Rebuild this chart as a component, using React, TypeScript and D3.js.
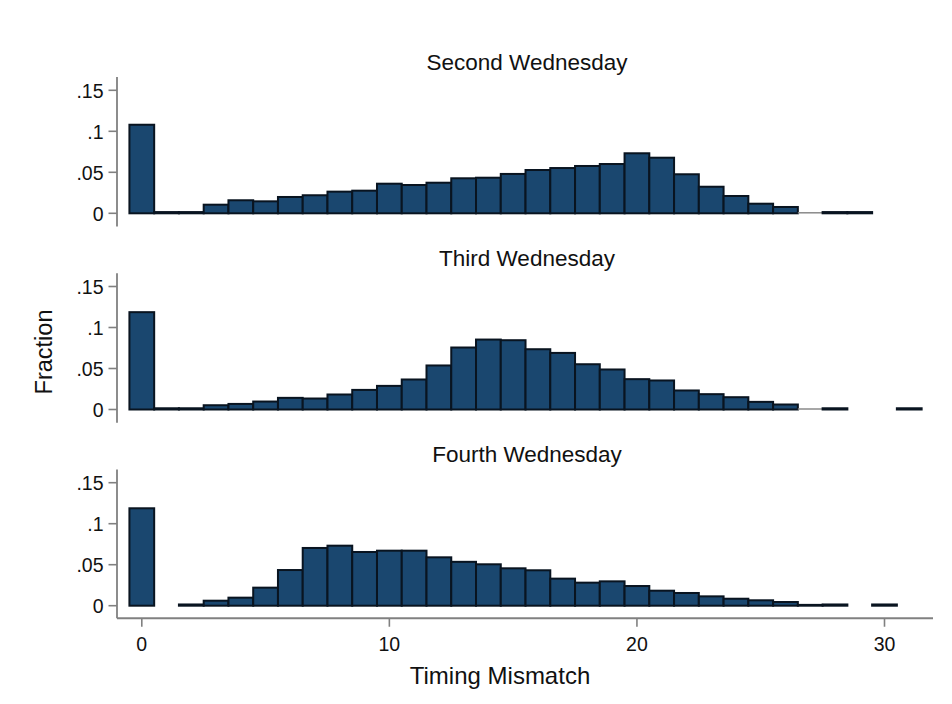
import React from "react";
import * as d3 from "d3";

const panelTitles = ["Second Wednesday", "Third Wednesday", "Fourth Wednesday"];
const bins = d3.range(0, 32);
const secondWed: (number | null)[] = [0.108, 0.0015, 0.0015, 0.0105, 0.0159, 0.0146, 0.0199, 0.022, 0.0264, 0.0276, 0.0361, 0.0345, 0.0373, 0.0427, 0.0434, 0.048, 0.0528, 0.0552, 0.0577, 0.0601, 0.0732, 0.0678, 0.0476, 0.0324, 0.0211, 0.0117, 0.0077, 0.0003, 0.0015, 0.0015, null, null];
const thirdWed: (number | null)[] = [0.1187, 0.0015, 0.0015, 0.0052, 0.0068, 0.0097, 0.0142, 0.0134, 0.0183, 0.0239, 0.0288, 0.0366, 0.0537, 0.0756, 0.0853, 0.0845, 0.0735, 0.069, 0.0552, 0.0488, 0.037, 0.0354, 0.0232, 0.0187, 0.015, 0.0093, 0.0061, 0.0003, 0.0015, null, null, 0.0015];
const fourthWed: (number | null)[] = [0.1188, null, 0.0015, 0.0061, 0.0098, 0.022, 0.0435, 0.0704, 0.0732, 0.0655, 0.0671, 0.0671, 0.059, 0.0535, 0.0505, 0.0456, 0.0432, 0.033, 0.0281, 0.0297, 0.024, 0.0183, 0.0155, 0.0114, 0.0085, 0.0066, 0.0045, 0.001, 0.0015, null, 0.0015, null];
const series = [secondWed, thirdWed, fourthWed];
const yTicks = [0, 0.05, 0.1, 0.15];
const yTickLabels = ["0", ".05", ".1", ".15"];
const xTicks = [0, 10, 20, 30];
const xTickLabels = ["0", "10", "20", "30"];

const W = 952;
const H = 704;
const FONT = "'Liberation Sans', Arial, sans-serif";
const FILL = "#1a476f";
const STROKE = "#091420";
const AXIS = "#808080";

export default function App() {
  const x = d3.scaleLinear().domain([0, 30]).range([141.8, 884.5]);
  const xLeft = 117;
  const xRight = 933;
  const panelY = d3.scaleLinear().domain([0, 1]).range([213.3, 409.5]);

  return (
    <svg width={W} height={H} style={{ position: "absolute", left: 0, top: 0, background: "#fff" }}>
      <rect x={0} y={0} width={W} height={H} fill="#fff" />
      {series.map((vals, p) => {
        const y0 = panelY(p);
        const y = d3.scaleLinear().domain([0, 0.15]).range([y0, y0 - 123]);
        const isLast = p === series.length - 1;
        return (
          <g key={p}>
            <text x={(xLeft + xRight) / 2 + 2} y={y0 - 143.5} textAnchor="middle" fontFamily={FONT} fontSize={22.5} fill="#111">
              {panelTitles[p]}
            </text>
            {bins.map((b, i) => {
              const v = vals[i];
              if (v === null || v === undefined) return null;
              const x1 = x(b - 0.5);
              const x2 = x(b + 0.5);
              const yt = y(v);
              const thin = v < 0.0005;
              if (thin) {
                return (
                  <line key={i} x1={x1} x2={x2} y1={y0 - 0.5} y2={y0 - 0.5} stroke="#8a8a8a" strokeWidth={1.5} />
                );
              }
              return (
                <rect key={i} x={x1} y={yt} width={x2 - x1} height={Math.max(0, y0 - yt)} fill={FILL}
                  stroke={STROKE} strokeWidth={2} />
              );
            })}
            <line x1={xLeft} x2={xLeft} y1={y(0.1662)} y2={isLast ? y(-0.0153) : y(-0.0162)} stroke={AXIS} strokeWidth={1.8} />
            {yTicks.map((t, i) => (
              <g key={i}>
                <line x1={xLeft - 8.5} x2={xLeft} y1={y(t)} y2={y(t)} stroke={AXIS} strokeWidth={1.6} />
                <text x={xLeft - 13.5} y={y(t)} dy="0.37em" textAnchor="end" fontFamily={FONT} fontSize={19.5} fill="#111">
                  {yTickLabels[i]}
                </text>
              </g>
            ))}
            {isLast && (
              <g>
                <line x1={xLeft} x2={xRight} y1={y(-0.0153)} y2={y(-0.0153)} stroke={AXIS} strokeWidth={1.8} />
                {xTicks.map((t, i) => (
                  <g key={i}>
                    <line x1={x(t)} x2={x(t)} y1={y(-0.0153)} y2={y(-0.0153) + 8.5} stroke={AXIS} strokeWidth={1.6} />
                    <text x={x(t)} y={651} textAnchor="middle" fontFamily={FONT} fontSize={19.5} fill="#111">
                      {xTickLabels[i]}
                    </text>
                  </g>
                ))}
              </g>
            )}
          </g>
        );
      })}
      <text x={500} y={684} textAnchor="middle" fontFamily={FONT} fontSize={24} fill="#111">
        Timing Mismatch
      </text>
      <text transform={`translate(52,352) rotate(-90)`} textAnchor="middle" fontFamily={FONT} fontSize={23.5} fill="#111">
        Fraction
      </text>
    </svg>
  );
}
